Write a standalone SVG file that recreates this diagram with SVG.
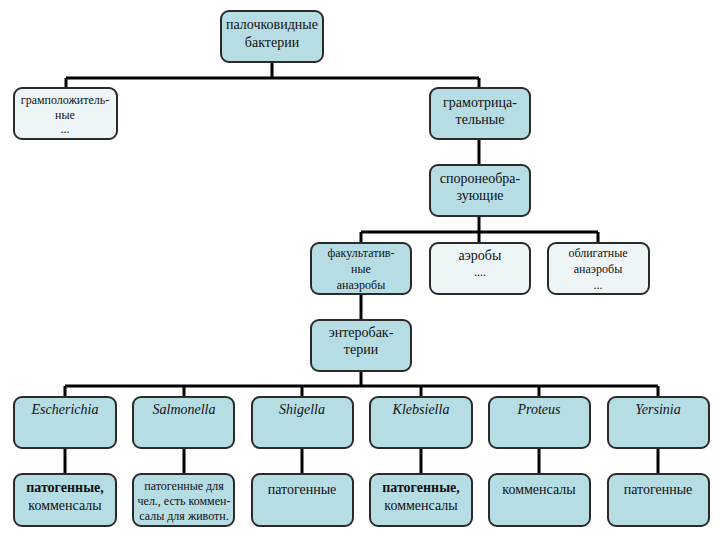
<svg xmlns="http://www.w3.org/2000/svg" width="720" height="540" viewBox="0 0 720 540">
<style>
.n{fill:#b7dde4;stroke:#2a2a2a;stroke-width:2}
.l{fill:#eef5f7;stroke:#2a2a2a;stroke-width:2}
.c{fill:none;stroke:#000;stroke-width:3}
text{font-family:'Liberation Serif','Times New Roman','DejaVu Serif',serif;fill:#111;text-anchor:middle}
.t14{font-size:14px}
.t12{font-size:12px}
.i{font-size:14px;font-style:italic}
.b{font-size:14px;font-weight:bold}
</style>
<rect width="720" height="540" fill="#fff"/>
<g id="connectors">
<path class="c" d="M272 62V78M66 78H479M66 78V88M479 78V88"/>
<path class="c" d="M479 139V165M479 216V232M361 232H598M361 232V243M598 232V243M479 232V243"/>
<path class="c" d="M361 294V320M361 371V386M65 386H658"/>
<path class="c" d="M65 386V397M184 386V397M302 386V397M421 386V397M539 386V397M658 386V397"/>
<path class="c" d="M65 448V474M184 448V474M302 448V474M421 448V474M539 448V474M658 448V474"/>
</g>
<g font-family="Liberation Serif, Times New Roman, serif">
<g id="root"><rect class="n" x="221" y="11" width="102" height="51" rx="8"/><text class="t14" x="272" y="29">палочковидные</text><text class="t14" x="272" y="47">бактерии</text></g>
<g id="grampos"><rect class="l" x="14" y="88" width="103" height="51" rx="8"/><text class="t12" x="65" y="104">грамположитель-</text><text class="t12" x="65" y="119">ные</text><text class="t12" x="65" y="133">...</text></g>
<g id="gramneg"><rect class="n" x="430" y="88" width="100" height="51" rx="8"/><text class="t14" x="480" y="107">грамотрица-</text><text class="t14" x="480" y="124">тельные</text></g>
<g id="spore"><rect class="n" x="430" y="165" width="100" height="51" rx="8"/><text class="t14" x="480" y="183">споронеобра-</text><text class="t14" x="480" y="200">зующие</text></g>
<g id="facult"><rect class="n" x="311" y="243" width="100" height="51" rx="8"/><text class="t12" x="361" y="257">факультатив-</text><text class="t12" x="361" y="273">ные</text><text class="t12" x="361" y="289">анаэробы</text></g>
<g id="aerob"><rect class="l" x="430" y="243" width="100" height="51" rx="8"/><text class="t14" x="480" y="260">аэробы</text><text class="t12" x="480" y="276">....</text></g>
<g id="oblig"><rect class="l" x="548" y="243" width="101" height="51" rx="8"/><text class="t12" x="598" y="257">облигатные</text><text class="t12" x="598" y="273">анаэробы</text><text class="t12" x="598" y="289">...</text></g>
<g id="entero"><rect class="n" x="311" y="320" width="100" height="51" rx="8"/><text class="t14" x="361" y="337">энтеробак-</text><text class="t14" x="361" y="354">терии</text></g>
<g id="escherichia"><rect class="n" x="14" y="397" width="102" height="51" rx="8"/><text class="i" x="65" y="414">Escherichia</text></g>
<g id="salmonella"><rect class="n" x="133" y="397" width="101" height="51" rx="8"/><text class="i" x="184" y="414">Salmonella</text></g>
<g id="shigella"><rect class="n" x="252" y="397" width="101" height="51" rx="8"/><text class="i" x="302" y="414">Shigella</text></g>
<g id="klebsiella"><rect class="n" x="370" y="397" width="102" height="51" rx="8"/><text class="i" x="421" y="414">Klebsiella</text></g>
<g id="proteus"><rect class="n" x="489" y="397" width="101" height="51" rx="8"/><text class="i" x="539" y="414">Proteus</text></g>
<g id="yersinia"><rect class="n" x="608" y="397" width="101" height="51" rx="8"/><text class="i" x="658" y="414">Yersinia</text></g>
<g id="esch-desc"><rect class="n" x="14" y="474" width="102" height="52" rx="8"/><text class="b" x="65" y="492">патогенные,</text><text class="t14" x="65" y="510">комменсалы</text></g>
<g id="salm-desc"><rect class="n" x="133" y="474" width="101" height="52" rx="8"/><text class="t12" x="184" y="490">патогенные для</text><text class="t12" x="184" y="505">чел., есть коммен-</text><text class="t12" x="184" y="520">салы для животн.</text></g>
<g id="shig-desc"><rect class="n" x="252" y="474" width="101" height="52" rx="8"/><text class="t14" x="302" y="494">патогенные</text></g>
<g id="kleb-desc"><rect class="n" x="370" y="474" width="102" height="52" rx="8"/><text class="b" x="421" y="492">патогенные,</text><text class="t14" x="421" y="510">комменсалы</text></g>
<g id="prot-desc"><rect class="n" x="489" y="474" width="101" height="52" rx="8"/><text class="t14" x="539" y="494">комменсалы</text></g>
<g id="yers-desc"><rect class="n" x="608" y="474" width="101" height="52" rx="8"/><text class="t14" x="658" y="494">патогенные</text></g>
</g>
</svg>
